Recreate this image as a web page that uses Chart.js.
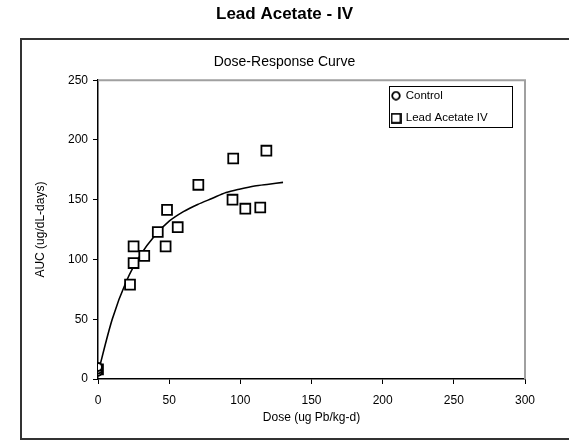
<!DOCTYPE html>
<html>
<head>
<meta charset="utf-8">
<script src="https://cdn.jsdelivr.net/npm/chart.js@4.4.1/dist/chart.umd.min.js"></script>
<style>
  html, body { margin: 0; padding: 0; background: #fff; }
  #wrap { position: relative; width: 569px; height: 440px; }
</style>
</head>
<body>
<div id="wrap"><canvas id="doseChart" width="569" height="440"></canvas></div>
<script>
// values
const doseLead = [0, 22.5, 25, 25, 32.5, 42, 47.5, 48.5, 56, 70.5, 94.5, 95, 103.5, 114, 118.3];
const aucLead = [8, 79, 97, 111, 103, 123, 111, 141.5, 127, 162.5, 150, 184.5, 142.5, 143.5, 191];

const doseControl = [0, 0, 0];
const aucControl = [6, 8, 10];

const doseFit = [0, 10, 20, 30, 40, 50, 60, 70, 80, 90, 100, 110, 120, 130];
const aucFit = [5, 50, 82, 104, 120, 132, 140, 146, 151, 156, 159, 161.5, 163, 164.5];

const xTicks = [0, 50, 100, 150, 200, 250, 300];
const yTicks = [0, 50, 100, 150, 200, 250];

const toPoints = (xs, ys) => xs.map((x, i) => ({ x: x, y: ys[i] }));

const FONT = 'Arial, "Liberation Sans", sans-serif';

// small legend symbols, so circle and square can have their own sizes
function legendSymbol(kind, size) {
    const c = document.createElement('canvas');
    c.width = size;
    c.height = size;
    const g = c.getContext('2d');
    g.strokeStyle = '#000';
    g.lineWidth = 1.8;
    g.fillStyle = '#fff';
    if (kind === 'circle') {
        g.beginPath();
        g.arc(size / 2, size / 2, size / 2 - 1.2, 0, Math.PI * 2);
        g.fill();
        g.stroke();
    } else {
        g.fillRect(1, 1, size - 2, size - 2);
        g.strokeRect(1, 1, size - 2, size - 2);
    }
    return c;
}
const legendIcons = {
    'Control': legendSymbol('circle', 10),
    'Lead Acetate IV': legendSymbol('rect', 11)
};

// outer frame, gray plot border and legend placement
const framePlugin = {
    id: 'frame',
    beforeDraw(chart) {
        const lg = chart.legend;
        if (lg) {
            lg.left = 381;
            lg.top = 79;
            lg.width = 140;
            lg.right = lg.left + lg.width;
            lg.bottom = 200;
            lg.height = lg.bottom - lg.top;
        }
    },
    beforeDatasetsDraw(chart) {
        const { ctx, chartArea: a } = chart;
        ctx.save();
        ctx.strokeStyle = '#333333';
        ctx.lineWidth = 2;
        ctx.strokeRect(21, 39, 600, 400);
        ctx.strokeStyle = '#a0a0a0';
        ctx.lineWidth = 2;
        ctx.beginPath();
        ctx.moveTo(a.left, a.top);
        ctx.lineTo(a.right, a.top);
        ctx.lineTo(a.right, a.bottom);
        ctx.stroke();
        ctx.restore();
    },
    afterDraw(chart) {
        const ctx = chart.ctx;
        ctx.save();
        ctx.strokeStyle = '#000';
        ctx.lineWidth = 1;
        ctx.strokeRect(389.5, 86.5, 123, 41);
        ctx.restore();
    }
};

new Chart(document.getElementById('doseChart'), {
    type: 'scatter',
    data: {
        datasets: [
            {
                label: 'Control',
                data: toPoints(doseControl, aucControl),
                pointStyle: 'circle',
                pointRadius: 4,
                borderWidth: 2,
                borderColor: '#000',
                backgroundColor: '#fff'
            },
            {
                label: 'Lead Acetate IV',
                data: toPoints(doseLead, aucLead),
                pointStyle: 'rect',
                pointRadius: 7,
                borderWidth: 1.8,
                borderColor: '#000',
                backgroundColor: '#fff'
            },
            {
                label: 'fit',
                type: 'line',
                data: toPoints(doseFit, aucFit),
                showLine: true,
                pointRadius: 0,
                borderColor: '#000',
                borderWidth: 1.6,
                tension: 0.3,
                fill: false,
                order: 5
            }
        ]
    },
    options: {
        responsive: false,
        animation: false,
        events: [],
        layout: { padding: 0 },
        plugins: {
            title: {
                display: true,
                text: 'Lead Acetate - IV',
                color: '#000',
                font: { family: FONT, size: 17, weight: 'bold' },
                padding: { top: 4, bottom: 18 }
            },
            subtitle: {
                display: true,
                text: 'Dose-Response Curve',
                color: '#000',
                font: { family: FONT, size: 14 },
                padding: { top: 11.4, bottom: 9.6 }
            },
            legend: {
                position: 'chartArea',
                align: 'start',
                labels: {
                    usePointStyle: true,
                    boxWidth: 8,
                    boxHeight: 8,
                    padding: 11,
                    color: '#000',
                    font: { family: FONT, size: 11.5 },
                    generateLabels: (chart) => {
                        const items = Chart.defaults.plugins.legend.labels.generateLabels(chart);
                        return items
                            .filter(item => item.text !== 'fit')
                            .map(item => Object.assign(item, { pointStyle: legendIcons[item.text] }));
                    }
                }
            },
            tooltip: { enabled: false }
        },
        scales: {
            x: {
                type: 'linear',
                min: 0,
                max: 300,
                afterFit: (scale) => { scale.height = 61; },
                afterBuildTicks: (scale) => { scale.ticks = xTicks.map(v => ({ value: v })); },
                ticks: {
                    color: '#000',
                    padding: 9,
                    font: { family: FONT, size: 12 }
                },
                grid: {
                    drawOnChartArea: false,
                    drawTicks: true,
                    tickLength: 5,
                    tickColor: '#000'
                },
                border: { color: '#000', width: 1.5 },
                title: {
                    display: true,
                    text: 'Dose (ug Pb/kg-d)',
                    color: '#000',
                    font: { family: FONT, size: 12 },
                    padding: { top: 0, bottom: 15 }
                }
            },
            y: {
                type: 'linear',
                min: 0,
                max: 250,
                afterFit: (scale) => { scale.width = 98; },
                afterBuildTicks: (scale) => { scale.ticks = yTicks.map(v => ({ value: v })); },
                ticks: {
                    color: '#000',
                    padding: 5,
                    font: { family: FONT, size: 12 }
                },
                grid: {
                    drawOnChartArea: false,
                    drawTicks: true,
                    tickLength: 5,
                    tickColor: '#000'
                },
                border: { color: '#000', width: 1.5 },
                title: {
                    display: true,
                    text: 'AUC (ug/dL-days)',
                    color: '#000',
                    font: { family: FONT, size: 12 },
                    padding: { top: 33, bottom: 0 }
                }
            },
            // empty right-hand spacer so the titles centre on the whole page
            yRight: {
                type: 'linear',
                position: 'right',
                min: 0,
                max: 250,
                afterFit: (scale) => { scale.width = 44; },
                ticks: { display: false },
                grid: { display: false },
                border: { display: false },
                title: { display: false }
            }
        }
    },
    plugins: [framePlugin]
});
</script>
</body>
</html>
